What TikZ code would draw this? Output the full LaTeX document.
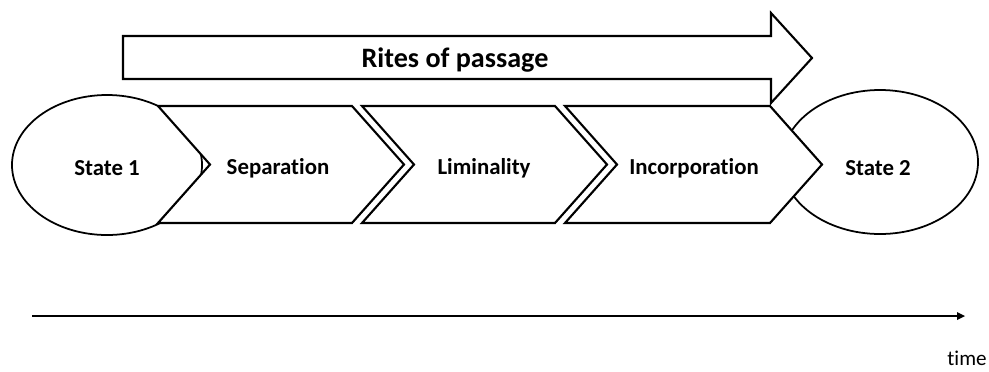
\documentclass[tikz,border=0pt]{standalone}
\usepackage{fontspec}
\setmainfont{Carlito}[RawFeature=-liga]
\usepackage{tikz}
\usetikzlibrary{calc}

\begin{document}
\begin{tikzpicture}[scale=0.2]
                \tikzstyle{every node}+=[inner sep=0pt]
                \tikzstyle{stage}=[draw=black, fill=white, line width=1.2pt, line join=miter]
                \tikzstyle{state}=[draw=black, fill=white, line width=1.0pt]
                \tikzstyle{lbl}=[font=\bfseries\fontsize{13}{15}\selectfont]
                \useasboundingbox (0,0) rectangle (98.9,-37.1);
                % the two states
                \draw [state] (10.7,-16.5) ellipse (9.5 and 7.0);
                \draw [state] (88.0,-16.2) ellipse (9.8 and 7.2);
                % the three stages
                \draw [stage] (15.8,-10.6) -- (35.2,-10.6) -- (40.4,-16.45) -- (35.2,-22.3) -- (15.8,-22.3) -- (21.0,-16.45) -- cycle;
                \draw [stage] (36.2,-10.6) -- (55.5,-10.6) -- (60.7,-16.45) -- (55.5,-22.3) -- (36.2,-22.3) -- (41.4,-16.45) -- cycle;
                \draw [stage] (56.5,-10.6) -- (77.0,-10.6) -- (82.2,-16.45) -- (77.0,-22.3) -- (56.5,-22.3) -- (61.7,-16.45) -- cycle;
                % big arrow on top
                \draw [stage] (12.3,-3.6) -- (77.1,-3.6) -- (77.1,-1.3) -- (81.2,-5.8) -- (77.1,-10.3) -- (77.1,-7.9) -- (12.3,-7.9) -- cycle;
                \draw (45.5,-6.0) node [font=\bfseries\fontsize{16}{18}\selectfont] (rites) {Rites of passage};
                \draw (10.7,-16.8) node [lbl] (st1) {State 1};
                \draw (27.8,-16.8) node [lbl] (sep) {Separation};
                \draw (48.4,-16.8) node [lbl] (lim) {Liminality};
                \draw (69.4,-16.8) node [lbl] (inc) {Incorporation};
                \draw (87.8,-16.8) node [lbl] (st2) {State 2};
                % time axis
                \coordinate (t0) at (3.2,-31.6);
                \coordinate (t1) at (96.5,-31.6);
                \draw [black, line width=1.2pt] (t0) -- ($(t1)+(-0.6,0)$);
                \fill [black] (t1) -- ++(-0.8,0.4) -- ++(0,-0.8) -- cycle;
                \draw (96.7,-35.8) node [font=\fontsize{12}{14}\selectfont] (time) {time};
\end{tikzpicture}
\end{document}
